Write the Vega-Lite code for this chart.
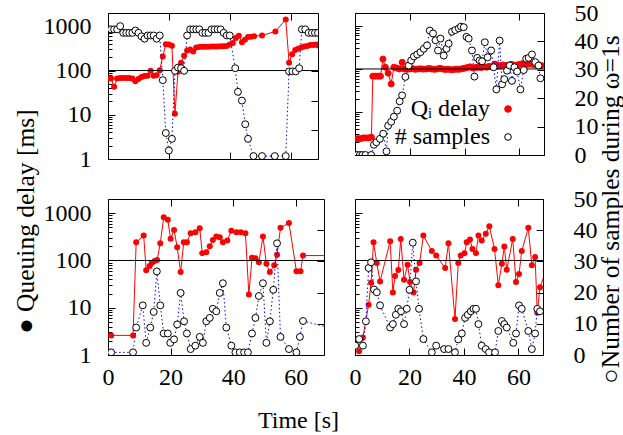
{
  "$schema": "https://vega.github.io/schema/vega-lite/v6.json",
  "background": "white",
  "padding": {"left": 12, "top": 0, "right": 0, "bottom": 0},
  "columns": 2,
  "spacing": {"row": 40, "column": 31},
  "bounds": "flush",
  "config": {
    "font": "Liberation Serif, Times New Roman, DejaVu Serif, serif",
    "view": {"stroke": "black", "strokeWidth": 1},
    "axis": {"domain": false, "grid": false, "labelFont": "Liberation Serif, Times New Roman, DejaVu Serif, serif", "labelFontSize": 24, "labelColor": "black", "titleFont": "Liberation Serif, Times New Roman, DejaVu Serif, serif", "titleFontSize": 24, "titleFontWeight": "normal", "titleColor": "black", "tickColor": "black", "tickWidth": 1, "labelFlush": false, "labelOverlap": false},
    "legend": {"labelFont": "Liberation Serif, Times New Roman, DejaVu Serif, serif"}
  },
  "datasets": {
    "tl_d": [{"t":0,"v":66},{"t":1,"v":66},{"t":2,"v":43},{"t":3,"v":66},{"t":4,"v":68},{"t":5,"v":68},{"t":6,"v":68},{"t":7,"v":68},{"t":8,"v":66},{"t":9,"v":57},{"t":10,"v":64},{"t":11,"v":71},{"t":12,"v":75},{"t":13,"v":76},{"t":14,"v":99},{"t":15,"v":76},{"t":16,"v":78},{"t":17,"v":102},{"t":18,"v":207},{"t":19,"v":395},{"t":20,"v":390},{"t":21,"v":363},{"t":22,"v":10.6},{"t":23,"v":94},{"t":24,"v":151},{"t":25,"v":215},{"t":26,"v":285},{"t":27,"v":300},{"t":28,"v":270},{"t":29,"v":330},{"t":30,"v":340},{"t":31,"v":345},{"t":32,"v":345},{"t":33,"v":345},{"t":34,"v":350},{"t":35,"v":350},{"t":36,"v":350},{"t":37,"v":355},{"t":38,"v":355},{"t":39,"v":360},{"t":40,"v":390},{"t":41,"v":420},{"t":42,"v":545},{"t":43,"v":610},{"t":44,"v":437},{"t":45,"v":500},{"t":46,"v":570},{"t":47,"v":580},{"t":48,"v":600},{"t":50.6,"v":620},{"t":55,"v":767},{"t":58.4,"v":1420},{"t":59.5,"v":151},{"t":60.5,"v":235},{"t":61.5,"v":290},{"t":62.5,"v":310},{"t":63.5,"v":330},{"t":64.5,"v":350},{"t":65.5,"v":360},{"t":66.5,"v":380},{"t":67.5,"v":380},{"t":68.5,"v":390},{"t":69,"v":370}],
    "tl_n": [{"t":0,"v":44.4},{"t":1,"v":44.4},{"t":2,"v":44.4},{"t":3,"v":44.4},{"t":4,"v":45.5},{"t":5,"v":43.2},{"t":6,"v":43.2},{"t":7,"v":43.2},{"t":8,"v":43.2},{"t":9,"v":44.0},{"t":10,"v":43.2},{"t":11,"v":42.0},{"t":12,"v":41.2},{"t":13,"v":42.3},{"t":14,"v":42.3},{"t":15,"v":42.3},{"t":16,"v":41.2},{"t":17,"v":42.3},{"t":18,"v":27},{"t":19,"v":8.9},{"t":20,"v":2.9},{"t":21,"v":6.9},{"t":22,"v":30.2},{"t":23,"v":31.3},{"t":24,"v":31.1},{"t":25,"v":30.2},{"t":26,"v":42.3},{"t":27,"v":44.4},{"t":28,"v":44.4},{"t":29,"v":44.4},{"t":30,"v":44.4},{"t":31,"v":43.2},{"t":32,"v":43.2},{"t":33,"v":43.2},{"t":34,"v":44.4},{"t":35,"v":44.4},{"t":36,"v":44.4},{"t":37,"v":44.4},{"t":38,"v":43.2},{"t":39,"v":42.3},{"t":40,"v":42.3},{"t":41.8,"v":31.1},{"t":42.7,"v":23},{"t":44,"v":20},{"t":45.1,"v":11.9},{"t":46,"v":6.9},{"t":47.8,"v":1},{"t":50.6,"v":1},{"t":54.8,"v":1},{"t":58.4,"v":1},{"t":59.5,"v":30},{"t":60.6,"v":30},{"t":61.7,"v":30},{"t":62.8,"v":31.1},{"t":63.7,"v":44.4},{"t":64.8,"v":44.4},{"t":65.9,"v":43.2},{"t":67,"v":43.2},{"t":68,"v":43.2},{"t":69,"v":43.2}],
    "tr_d": [{"t":0,"v":2.4},{"t":1,"v":2.4},{"t":2,"v":2.4},{"t":3,"v":2.5},{"t":4,"v":2.5},{"t":5,"v":2.5},{"t":6,"v":2.6},{"t":6.5,"v":68},{"t":7.5,"v":68},{"t":8.5,"v":68},{"t":9.3,"v":68},{"t":10.2,"v":170},{"t":11.1,"v":110},{"t":12.1,"v":80},{"t":13.2,"v":45},{"t":14.2,"v":110},{"t":15.3,"v":105},{"t":16.2,"v":100},{"t":17.2,"v":143},{"t":18,"v":100},{"t":19,"v":98},{"t":20,"v":100},{"t":21,"v":102},{"t":22,"v":98},{"t":23,"v":100},{"t":24,"v":101},{"t":25,"v":99},{"t":26,"v":100},{"t":27,"v":103},{"t":28,"v":100},{"t":29,"v":98},{"t":30,"v":100},{"t":31,"v":104},{"t":32,"v":100},{"t":33,"v":97},{"t":34,"v":99},{"t":35,"v":96},{"t":36,"v":97},{"t":37,"v":99},{"t":38,"v":98},{"t":39,"v":101},{"t":40,"v":104},{"t":41,"v":108},{"t":42,"v":112},{"t":43,"v":106},{"t":44,"v":108},{"t":45,"v":110},{"t":46,"v":108},{"t":47,"v":112},{"t":48,"v":110},{"t":49,"v":115},{"t":50,"v":112},{"t":51,"v":130},{"t":52,"v":122},{"t":53,"v":118},{"t":54,"v":124},{"t":55,"v":120},{"t":56,"v":122},{"t":57,"v":128},{"t":58,"v":124},{"t":59,"v":122},{"t":60,"v":128},{"t":61,"v":132},{"t":62,"v":125},{"t":63,"v":128},{"t":64,"v":130},{"t":65,"v":128},{"t":66,"v":124},{"t":67,"v":126},{"t":68,"v":120}],
    "tr_n": [{"t":0,"v":0},{"t":0.8,"v":0},{"t":1.8,"v":0},{"t":2.7,"v":0},{"t":3.8,"v":0},{"t":5.9,"v":0},{"t":6.9,"v":3.6},{"t":7.8,"v":4.5},{"t":9.1,"v":5.7},{"t":10.3,"v":7.5},{"t":11.5,"v":1.3},{"t":12.1,"v":10.3},{"t":13.2,"v":11.7},{"t":14.2,"v":13.5},{"t":15.4,"v":15.6},{"t":16.3,"v":18.9},{"t":17.2,"v":21},{"t":18.4,"v":27.5},{"t":19.6,"v":31.5},{"t":20.5,"v":33.3},{"t":21.5,"v":34.7},{"t":22.7,"v":35.4},{"t":23.9,"v":36.2},{"t":25.1,"v":37.4},{"t":26.3,"v":38.6},{"t":27.3,"v":43.8},{"t":28.5,"v":42.8},{"t":29.4,"v":40.4},{"t":30.3,"v":36.8},{"t":31.2,"v":41},{"t":32.4,"v":35},{"t":33.4,"v":37.4},{"t":34.2,"v":39.2},{"t":35.4,"v":43.4},{"t":36.6,"v":44},{"t":37.9,"v":44.6},{"t":38.7,"v":45.2},{"t":39.7,"v":45},{"t":40.7,"v":41.6},{"t":41.5,"v":41},{"t":42.7,"v":36.8},{"t":43.6,"v":27.6},{"t":44.6,"v":34.2},{"t":45.5,"v":33.3},{"t":46.4,"v":33},{"t":47.4,"v":39.7},{"t":48.4,"v":34.4},{"t":49.7,"v":36.8},{"t":50.6,"v":30.9},{"t":51.6,"v":23.1},{"t":52.8,"v":40.3},{"t":53.7,"v":24.9},{"t":54.5,"v":26.7},{"t":55.5,"v":29.7},{"t":56.5,"v":31.5},{"t":57.3,"v":26.1},{"t":58.2,"v":30.9},{"t":59.2,"v":29.4},{"t":60.4,"v":23.1},{"t":61.6,"v":29.9},{"t":62.5,"v":33.9},{"t":63.4,"v":34.2},{"t":64.6,"v":35.4},{"t":65.8,"v":32.7},{"t":67,"v":31.5},{"t":67.7,"v":27}],
    "bl_d": [{"t":1,"v":2.6},{"t":8,"v":2.6},{"t":9,"v":243},{"t":11.4,"v":336},{"t":12.2,"v":62},{"t":13.3,"v":76},{"t":14,"v":89},{"t":14.9,"v":98},{"t":15.7,"v":103},{"t":16.7,"v":231},{"t":17.8,"v":818},{"t":19.1,"v":730},{"t":20,"v":287},{"t":21.1,"v":444},{"t":22.1,"v":191},{"t":23.2,"v":57},{"t":24.2,"v":243},{"t":25.2,"v":243},{"t":26.4,"v":376},{"t":27.9,"v":395},{"t":29.3,"v":480},{"t":30.1,"v":143},{"t":31.4,"v":150},{"t":32.5,"v":200},{"t":33.5,"v":272},{"t":34.6,"v":320},{"t":35.7,"v":310},{"t":36.7,"v":243},{"t":38.1,"v":265},{"t":39.4,"v":427},{"t":41,"v":395},{"t":42.4,"v":395},{"t":43.9,"v":376},{"t":45,"v":19},{"t":46,"v":114},{"t":47.1,"v":112},{"t":48.2,"v":92},{"t":49.5,"v":320},{"t":50.6,"v":85},{"t":51.7,"v":57},{"t":53.1,"v":79},{"t":54,"v":132},{"t":55.1,"v":490},{"t":57.8,"v":620},{"t":60.2,"v":59},{"t":61.5,"v":59},{"t":62.3,"v":127},{"t":75,"v":127}],
    "bl_n": [{"t":1,"v":0.85},{"t":8,"v":0.85},{"t":9,"v":8.8},{"t":11.1,"v":15.9},{"t":12.2,"v":3.9},{"t":13.5,"v":8.8},{"t":14.6,"v":13.8},{"t":15.6,"v":26.8},{"t":16.7,"v":15.9},{"t":17.8,"v":6.9},{"t":19.1,"v":6.9},{"t":19.9,"v":3.9},{"t":21.1,"v":5},{"t":22.1,"v":9.8},{"t":23.2,"v":19.9},{"t":24.3,"v":10.8},{"t":25.2,"v":6.9},{"t":26.4,"v":1.9},{"t":27.9,"v":3},{"t":29.3,"v":5.8},{"t":30.3,"v":3.9},{"t":31.4,"v":10.8},{"t":32.5,"v":11.9},{"t":33.5,"v":14.8},{"t":34.6,"v":14},{"t":35.7,"v":19.9},{"t":36.7,"v":23},{"t":37.8,"v":8.8},{"t":39.4,"v":3},{"t":40.7,"v":0.85},{"t":42.1,"v":0.85},{"t":43.5,"v":0.85},{"t":44.7,"v":0.85},{"t":46,"v":6.9},{"t":47.1,"v":11.9},{"t":48.2,"v":18.9},{"t":49.5,"v":23},{"t":50.6,"v":3.9},{"t":51.7,"v":10.8},{"t":52.8,"v":20.9},{"t":54,"v":35.8},{"t":55.1,"v":5.8},{"t":57.8,"v":1.9},{"t":60.2,"v":0.85},{"t":61.3,"v":5.8},{"t":62.3,"v":10.9},{"t":75,"v":7.7}],
    "br_d": [{"t":1.5,"v":1.2},{"t":2.9,"v":2.35},{"t":5,"v":11.6},{"t":5.9,"v":34},{"t":6.8,"v":243},{"t":8,"v":88},{"t":9.2,"v":36},{"t":12.9,"v":256},{"t":13.9,"v":21},{"t":14.7,"v":47},{"t":15.9,"v":63},{"t":16.8,"v":285},{"t":18,"v":39},{"t":19.3,"v":81},{"t":20.2,"v":35},{"t":21.5,"v":21},{"t":22.4,"v":64},{"t":23.7,"v":88},{"t":25.1,"v":336},{"t":28.2,"v":158},{"t":29.8,"v":127},{"t":33.1,"v":69},{"t":34.3,"v":232},{"t":36.7,"v":5.8},{"t":37.9,"v":88},{"t":38.8,"v":127},{"t":40.2,"v":143},{"t":41,"v":243},{"t":42.2,"v":277},{"t":43.1,"v":176},{"t":44.4,"v":143},{"t":45.3,"v":336},{"t":46.5,"v":265},{"t":48,"v":366},{"t":49.3,"v":530},{"t":51.2,"v":176},{"t":52.6,"v":30},{"t":53.9,"v":85},{"t":54.8,"v":198},{"t":55.7,"v":64},{"t":57.9,"v":285},{"t":59.1,"v":35},{"t":60.2,"v":52},{"t":61.2,"v":158},{"t":63.6,"v":490},{"t":64.9,"v":79},{"t":66.1,"v":118},{"t":66.9,"v":7.8},{"t":67.9,"v":27},{"t":70,"v":60}],
    "br_n": [{"t":0.1,"v":3},{"t":1.5,"v":5.1},{"t":2.9,"v":3},{"t":4,"v":10.8},{"t":5,"v":27.9},{"t":5.9,"v":29.7},{"t":7,"v":21},{"t":8,"v":20.1},{"t":9.2,"v":15.9},{"t":12.9,"v":8.8},{"t":13.9,"v":9.9},{"t":15,"v":12.9},{"t":15.9,"v":14.8},{"t":16.9,"v":14},{"t":18,"v":9.9},{"t":19,"v":14.8},{"t":20,"v":20.9},{"t":21.2,"v":36},{"t":22.4,"v":23.6},{"t":23.5,"v":14.8},{"t":25.1,"v":5.1},{"t":28.2,"v":0.85},{"t":29.8,"v":3},{"t":32.7,"v":1.9},{"t":34.3,"v":1.9},{"t":36.7,"v":0.85},{"t":37.9,"v":5},{"t":39.2,"v":6.9},{"t":40.4,"v":11.9},{"t":41.4,"v":12.9},{"t":42.5,"v":14},{"t":43.5,"v":14.8},{"t":44.4,"v":14.8},{"t":45.3,"v":9.9},{"t":46.5,"v":3},{"t":48,"v":1.9},{"t":49.2,"v":0.85},{"t":51.4,"v":0.85},{"t":52.6,"v":7.7},{"t":53.9,"v":10.9},{"t":54.8,"v":9.9},{"t":55.7,"v":8.8},{"t":58.1,"v":3.9},{"t":59.1,"v":6.9},{"t":60.2,"v":15.9},{"t":61.2,"v":14.8},{"t":63.6,"v":7.7},{"t":64.9,"v":1.9},{"t":66.1,"v":6.9},{"t":66.9,"v":14.8},{"t":67.9,"v":14}]
  },
  "concat": [
    {
      "width": 210, "height": 146,
      "resolve": {"scale": {"y": "independent"}, "axis": {"x": "independent"}},
      "layer": [
        {
          "layer": [
            {"data": {"name": "tl_d"}, "mark": {"type": "line", "color": "red", "strokeWidth": 1, "clip": true},
             "encoding": {
               "x": {"field": "t", "type": "quantitative", "scale": {"domain": [0, 69], "nice": false, "zero": false}, "axis": {"orient": "bottom", "values": [0, 20, 40, 60], "tickSize": -7, "labels": false, "title": null}},
               "y": {"field": "v", "type": "quantitative", "scale": {"type": "log", "domain": [1, 2000], "nice": false}, "axis": {"orient": "left", "values": [1,2,3,4,5,6,7,8,9,10,20,30,40,50,60,70,80,90,100,200,300,400,500,600,700,800,900,1000], "tickSize": {"condition": {"test": "indexof([1,10,100,1000], datum.value) >= 0", "value": -7}, "value": -4}, "labelExpr": "indexof([1,10,100,1000], datum.value) >= 0 ? format(datum.value, 'd') : ''", "labelPadding": 24, "title": "● Queuing delay [ms]", "titleFontSize": 25.5, "titleAngle": 270, "titleX": -75, "titleY": 208, "titleAlign": "center", "titleBaseline": "alphabetic"}}
             }},
            {"data": {"name": "tl_d"}, "mark": {"type": "circle", "color": "red", "size": 36, "opacity": 1, "clip": true},
             "encoding": {
               "x": {"field": "t", "type": "quantitative", "scale": {"domain": [0, 69], "nice": false, "zero": false}, "axis": {"orient": "bottom", "values": [0, 20, 40, 60], "tickSize": -7, "labels": false, "title": null}},
               "y": {"field": "v", "type": "quantitative", "scale": {"type": "log", "domain": [1, 2000], "nice": false}, "axis": {"orient": "left", "values": [1,2,3,4,5,6,7,8,9,10,20,30,40,50,60,70,80,90,100,200,300,400,500,600,700,800,900,1000], "tickSize": {"condition": {"test": "indexof([1,10,100,1000], datum.value) >= 0", "value": -7}, "value": -4}, "labelExpr": "indexof([1,10,100,1000], datum.value) >= 0 ? format(datum.value, 'd') : ''", "labelPadding": 24, "title": "● Queuing delay [ms]", "titleFontSize": 25.5, "titleAngle": 270, "titleX": -75, "titleY": 208, "titleAlign": "center", "titleBaseline": "alphabetic"}}
             }},
            {"data": {"values": [{}]}, "mark": {"type": "rule", "color": "black", "strokeWidth": 1},
             "encoding": {"y": {"datum": 100, "type": "quantitative", "scale": {"type": "log", "domain": [1, 2000], "nice": false}}}}
          ]
        },
        {
          "layer": [
            {"data": {"name": "tl_n"}, "mark": {"type": "line", "color": "blue", "strokeWidth": 1, "strokeDash": [1.5, 2.5], "clip": true},
             "encoding": {
               "x": {"field": "t", "type": "quantitative", "scale": {"domain": [0, 69], "nice": false, "zero": false}, "axis": {"orient": "top", "values": [0, 20, 40, 60], "tickSize": -7, "labels": false, "title": null}},
               "y": {"field": "v", "type": "quantitative", "scale": {"domain": [0, 50], "nice": false, "zero": false}, "axis": {"orient": "right", "values": [10, 20, 30, 40], "tickSize": -7, "labels": false, "title": null}}
             }},
            {"data": {"name": "tl_n"}, "mark": {"type": "point", "shape": "circle", "filled": false, "fill": "white", "stroke": "black", "strokeWidth": 1, "size": 48, "opacity": 1, "clip": true},
             "encoding": {
               "x": {"field": "t", "type": "quantitative", "scale": {"domain": [0, 69], "nice": false, "zero": false}, "axis": {"orient": "top", "values": [0, 20, 40, 60], "tickSize": -7, "labels": false, "title": null}},
               "y": {"field": "v", "type": "quantitative", "scale": {"domain": [0, 50], "nice": false, "zero": false}, "axis": {"orient": "right", "values": [10, 20, 30, 40], "tickSize": -7, "labels": false, "title": null}}
             }}
          ]
        }
      ]
    },
    {
      "width": 189, "height": 142,
      "resolve": {"scale": {"y": "independent"}, "axis": {"x": "independent"}},
      "layer": [
        {
          "layer": [
            {"data": {"name": "tr_d"}, "mark": {"type": "line", "color": "red", "strokeWidth": 1, "clip": true},
             "encoding": {
               "x": {"field": "t", "type": "quantitative", "scale": {"domain": [0, 69], "nice": false, "zero": false}, "axis": {"orient": "bottom", "values": [0, 20, 40, 60], "tickSize": -7, "labels": false, "title": null}},
               "y": {"field": "v", "type": "quantitative", "scale": {"type": "log", "domain": [1, 2000], "nice": false}, "axis": {"orient": "left", "values": [1,2,3,4,5,6,7,8,9,10,20,30,40,50,60,70,80,90,100,200,300,400,500,600,700,800,900,1000], "tickSize": {"condition": {"test": "indexof([1,10,100,1000], datum.value) >= 0", "value": -7}, "value": -4}, "labels": false, "title": null}}
             }},
            {"data": {"name": "tr_d"}, "mark": {"type": "circle", "size": 36, "opacity": 1, "strokeWidth": 1, "clip": true},
             "encoding": {
               "x": {"field": "t", "type": "quantitative", "scale": {"domain": [0, 69], "nice": false, "zero": false}, "axis": {"orient": "bottom", "values": [0, 20, 40, 60], "tickSize": -7, "labels": false, "title": null}},
               "y": {"field": "v", "type": "quantitative", "scale": {"type": "log", "domain": [1, 2000], "nice": false}, "axis": {"orient": "left", "values": [1,2,3,4,5,6,7,8,9,10,20,30,40,50,60,70,80,90,100,200,300,400,500,600,700,800,900,1000], "tickSize": {"condition": {"test": "indexof([1,10,100,1000], datum.value) >= 0", "value": -7}, "value": -4}, "labels": false, "title": null}},
               "fill": {"datum": "Qᵢ delay", "scale": {"domain": ["Qᵢ delay", "# samples"], "range": ["red", "white"]},
                 "legend": {"orient": "none", "legendX": 388, "legendY": 84, "title": null, "labelFontSize": 24, "labelColor": "black", "labelAlign": "right", "labelOffset": -30, "labelLimit": 400, "symbolType": "circle", "symbolSize": 44, "symbolStrokeWidth": 1, "rowPadding": 4, "padding": 0}},
               "stroke": {"datum": "Qᵢ delay", "scale": {"domain": ["Qᵢ delay", "# samples"], "range": ["red", "black"]},
                 "legend": {"orient": "none", "legendX": 388, "legendY": 84, "title": null, "labelFontSize": 24, "labelColor": "black", "labelAlign": "right", "labelOffset": -30, "labelLimit": 400, "symbolType": "circle", "symbolSize": 44, "symbolStrokeWidth": 1, "rowPadding": 4, "padding": 0}}
             }},
            {"data": {"values": [{}]}, "mark": {"type": "rule", "color": "black", "strokeWidth": 1},
             "encoding": {"y": {"datum": 100, "type": "quantitative", "scale": {"type": "log", "domain": [1, 2000], "nice": false}}}}
          ]
        },
        {
          "layer": [
            {"data": {"name": "tr_n"}, "mark": {"type": "line", "color": "blue", "strokeWidth": 1, "strokeDash": [1.5, 2.5], "clip": true},
             "encoding": {
               "x": {"field": "t", "type": "quantitative", "scale": {"domain": [0, 69], "nice": false, "zero": false}, "axis": {"orient": "top", "values": [0, 20, 40, 60], "tickSize": -7, "labels": false, "title": null}},
               "y": {"field": "v", "type": "quantitative", "scale": {"domain": [0, 50], "nice": false, "zero": false}, "axis": {"orient": "right", "values": [0, 10, 20, 30, 40, 50], "tickSize": -7, "labelPadding": 37, "title": "○Number of samples during ω=1s", "titleFontSize": 25.5, "titleAngle": 270, "titleX": 74, "titleY": 196, "titleAlign": "center", "titleBaseline": "alphabetic"}}
             }},
            {"data": {"name": "tr_n"}, "mark": {"type": "point", "shape": "circle", "filled": true, "strokeWidth": 1, "size": 48, "opacity": 1, "clip": true},
             "encoding": {
               "x": {"field": "t", "type": "quantitative", "scale": {"domain": [0, 69], "nice": false, "zero": false}, "axis": {"orient": "top", "values": [0, 20, 40, 60], "tickSize": -7, "labels": false, "title": null}},
               "y": {"field": "v", "type": "quantitative", "scale": {"domain": [0, 50], "nice": false, "zero": false}, "axis": {"orient": "right", "values": [0, 10, 20, 30, 40, 50], "tickSize": -7, "labelPadding": 37, "title": "○Number of samples during ω=1s", "titleFontSize": 25.5, "titleAngle": 270, "titleX": 74, "titleY": 196, "titleAlign": "center", "titleBaseline": "alphabetic"}},
               "fill": {"datum": "# samples"},
               "stroke": {"datum": "# samples"}
             }}
          ]
        }
      ]
    },
    {
      "width": 216, "height": 156,
      "resolve": {"scale": {"y": "independent"}, "axis": {"x": "independent"}},
      "layer": [
        {
          "layer": [
            {"data": {"name": "bl_d"}, "mark": {"type": "line", "color": "red", "strokeWidth": 1, "clip": true},
             "encoding": {
               "x": {"field": "t", "type": "quantitative", "scale": {"domain": [0, 69], "nice": false, "zero": false}, "axis": {"orient": "bottom", "values": [0, 20, 40, 60], "tickSize": -7, "labelPadding": 17, "title": "Time [s]", "titleX": 190, "titleY": 72, "titleAlign": "center", "titleBaseline": "alphabetic"}},
               "y": {"field": "v", "type": "quantitative", "scale": {"type": "log", "domain": [1, 2000], "nice": false}, "axis": {"orient": "left", "values": [1,2,3,4,5,6,7,8,9,10,20,30,40,50,60,70,80,90,100,200,300,400,500,600,700,800,900,1000], "tickSize": {"condition": {"test": "indexof([1,10,100,1000], datum.value) >= 0", "value": -7}, "value": -4}, "labelExpr": "indexof([1,10,100,1000], datum.value) >= 0 ? format(datum.value, 'd') : ''", "labelPadding": 24, "title": null}}
             }},
            {"data": {"name": "bl_d"}, "mark": {"type": "circle", "color": "red", "size": 36, "opacity": 1, "clip": true},
             "encoding": {
               "x": {"field": "t", "type": "quantitative", "scale": {"domain": [0, 69], "nice": false, "zero": false}, "axis": {"orient": "bottom", "values": [0, 20, 40, 60], "tickSize": -7, "labelPadding": 17, "title": "Time [s]", "titleX": 190, "titleY": 72, "titleAlign": "center", "titleBaseline": "alphabetic"}},
               "y": {"field": "v", "type": "quantitative", "scale": {"type": "log", "domain": [1, 2000], "nice": false}, "axis": {"orient": "left", "values": [1,2,3,4,5,6,7,8,9,10,20,30,40,50,60,70,80,90,100,200,300,400,500,600,700,800,900,1000], "tickSize": {"condition": {"test": "indexof([1,10,100,1000], datum.value) >= 0", "value": -7}, "value": -4}, "labelExpr": "indexof([1,10,100,1000], datum.value) >= 0 ? format(datum.value, 'd') : ''", "labelPadding": 24, "title": null}}
             }},
            {"data": {"values": [{}]}, "mark": {"type": "rule", "color": "black", "strokeWidth": 1},
             "encoding": {"y": {"datum": 100, "type": "quantitative", "scale": {"type": "log", "domain": [1, 2000], "nice": false}}}}
          ]
        },
        {
          "layer": [
            {"data": {"name": "bl_n"}, "mark": {"type": "line", "color": "blue", "strokeWidth": 1, "strokeDash": [1.5, 2.5], "clip": true},
             "encoding": {
               "x": {"field": "t", "type": "quantitative", "scale": {"domain": [0, 69], "nice": false, "zero": false}, "axis": {"orient": "top", "values": [0, 20, 40, 60], "tickSize": -7, "labels": false, "title": null}},
               "y": {"field": "v", "type": "quantitative", "scale": {"domain": [0, 50], "nice": false, "zero": false}, "axis": {"orient": "right", "values": [10, 20, 30, 40], "tickSize": -7, "labels": false, "title": null}}
             }},
            {"data": {"name": "bl_n"}, "mark": {"type": "point", "shape": "circle", "filled": false, "fill": "white", "stroke": "black", "strokeWidth": 1, "size": 48, "opacity": 1, "clip": true},
             "encoding": {
               "x": {"field": "t", "type": "quantitative", "scale": {"domain": [0, 69], "nice": false, "zero": false}, "axis": {"orient": "top", "values": [0, 20, 40, 60], "tickSize": -7, "labels": false, "title": null}},
               "y": {"field": "v", "type": "quantitative", "scale": {"domain": [0, 50], "nice": false, "zero": false}, "axis": {"orient": "right", "values": [10, 20, 30, 40], "tickSize": -7, "labels": false, "title": null}}
             }}
          ]
        }
      ]
    },
    {
      "width": 188, "height": 156,
      "resolve": {"scale": {"y": "independent"}, "axis": {"x": "independent"}},
      "layer": [
        {
          "layer": [
            {"data": {"name": "br_d"}, "mark": {"type": "line", "color": "red", "strokeWidth": 1, "clip": true},
             "encoding": {
               "x": {"field": "t", "type": "quantitative", "scale": {"domain": [0, 69], "nice": false, "zero": false}, "axis": {"orient": "bottom", "values": [0, 20, 40, 60], "tickSize": -7, "labelPadding": 17, "title": null}},
               "y": {"field": "v", "type": "quantitative", "scale": {"type": "log", "domain": [1, 2000], "nice": false}, "axis": {"orient": "left", "values": [1,2,3,4,5,6,7,8,9,10,20,30,40,50,60,70,80,90,100,200,300,400,500,600,700,800,900,1000], "tickSize": {"condition": {"test": "indexof([1,10,100,1000], datum.value) >= 0", "value": -7}, "value": -4}, "labels": false, "title": null}}
             }},
            {"data": {"name": "br_d"}, "mark": {"type": "circle", "color": "red", "size": 36, "opacity": 1, "clip": true},
             "encoding": {
               "x": {"field": "t", "type": "quantitative", "scale": {"domain": [0, 69], "nice": false, "zero": false}, "axis": {"orient": "bottom", "values": [0, 20, 40, 60], "tickSize": -7, "labelPadding": 17, "title": null}},
               "y": {"field": "v", "type": "quantitative", "scale": {"type": "log", "domain": [1, 2000], "nice": false}, "axis": {"orient": "left", "values": [1,2,3,4,5,6,7,8,9,10,20,30,40,50,60,70,80,90,100,200,300,400,500,600,700,800,900,1000], "tickSize": {"condition": {"test": "indexof([1,10,100,1000], datum.value) >= 0", "value": -7}, "value": -4}, "labels": false, "title": null}}
             }},
            {"data": {"values": [{}]}, "mark": {"type": "rule", "color": "black", "strokeWidth": 1},
             "encoding": {"y": {"datum": 100, "type": "quantitative", "scale": {"type": "log", "domain": [1, 2000], "nice": false}}}}
          ]
        },
        {
          "layer": [
            {"data": {"name": "br_n"}, "mark": {"type": "line", "color": "blue", "strokeWidth": 1, "strokeDash": [1.5, 2.5], "clip": true},
             "encoding": {
               "x": {"field": "t", "type": "quantitative", "scale": {"domain": [0, 69], "nice": false, "zero": false}, "axis": {"orient": "top", "values": [0, 20, 40, 60], "tickSize": -7, "labels": false, "title": null}},
               "y": {"field": "v", "type": "quantitative", "scale": {"domain": [0, 50], "nice": false, "zero": false}, "axis": {"orient": "right", "values": [0, 10, 20, 30, 40, 50], "tickSize": -7, "labelPadding": 37, "title": null}}
             }},
            {"data": {"name": "br_n"}, "mark": {"type": "point", "shape": "circle", "filled": false, "fill": "white", "stroke": "black", "strokeWidth": 1, "size": 48, "opacity": 1, "clip": true},
             "encoding": {
               "x": {"field": "t", "type": "quantitative", "scale": {"domain": [0, 69], "nice": false, "zero": false}, "axis": {"orient": "top", "values": [0, 20, 40, 60], "tickSize": -7, "labels": false, "title": null}},
               "y": {"field": "v", "type": "quantitative", "scale": {"domain": [0, 50], "nice": false, "zero": false}, "axis": {"orient": "right", "values": [0, 10, 20, 30, 40, 50], "tickSize": -7, "labelPadding": 37, "title": null}}
             }}
          ]
        }
      ]
    }
  ]
}
